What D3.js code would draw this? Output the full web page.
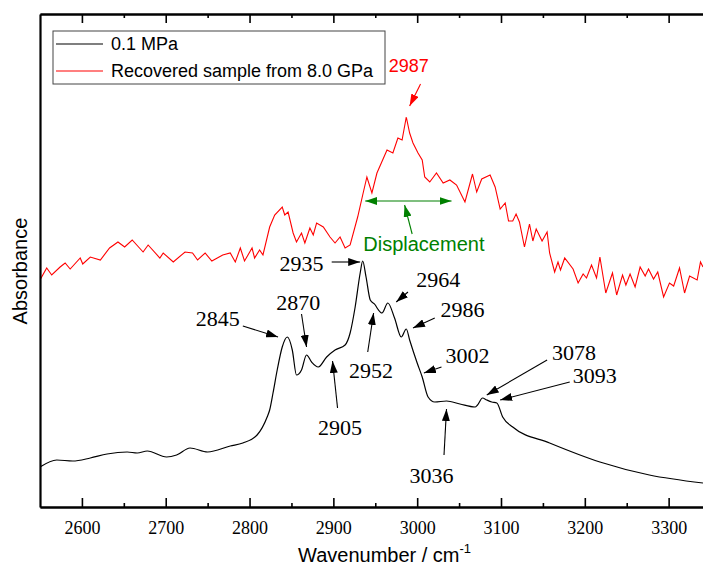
<!DOCTYPE html>
<html>
<head>
<meta charset="utf-8">
<script src="https://d3js.org/d3.v7.min.js"></script>
<style>
  body { margin: 0; background: #fff; }
</style>
</head>
<body>
<svg width="703" height="572"></svg>
<script>
// spectra (wavenumber in cm-1, absorbance in arbitrary units)
var waveAmbient = [2550,2570,2589,2610,2630,2654,2666,2678,2701,2713,2729,2750,2777,2792,2809,2821,2824,2828,2833,2839,2845,2851,2856,2862,2868,2874,2882,2892,2902,2914,2920,2926,2932,2935,2939,2944,2950,2953,2958,2965,2973,2981,2987,2991,3000,3006,3013,3021,3035,3051,3069,3072,3078,3083,3089,3095,3102,3114,3158,3218,3277,3341];
var absAmbient = [0.40,0.47,0.46,0.49,0.53,0.55,0.54,0.56,0.50,0.52,0.59,0.55,0.61,0.64,0.72,0.90,0.97,1.14,1.37,1.60,1.70,1.57,1.32,1.37,1.52,1.45,1.40,1.50,1.57,1.62,1.74,2.00,2.34,2.46,2.30,2.07,2.02,1.98,1.94,2.04,1.89,1.70,1.78,1.67,1.44,1.30,1.10,1.05,1.06,1.03,1.00,1.02,1.09,1.07,1.05,1.04,0.90,0.80,0.64,0.45,0.32,0.24];

var waveRecovered = [2550,2558,2564,2574,2580,2586,2598,2601,2610,2622,2633,2643,2651,2660,2673,2679,2693,2697,2709,2723,2732,2738,2747,2755,2768,2777,2783,2789,2794,2803,2806,2812,2816,2824,2830,2839,2842,2846,2852,2856,2862,2866,2872,2876,2880,2888,2896,2902,2908,2914,2920,2929,2935,2940,2946,2952,2964,2971,2977,2982,2987,2991,2995,3001,3006,3009,3015,3023,3031,3039,3047,3057,3066,3071,3077,3087,3093,3099,3105,3109,3114,3118,3122,3128,3134,3138,3142,3149,3155,3158,3164,3168,3171,3176,3186,3192,3198,3202,3208,3214,3218,3225,3233,3238,3245,3249,3254,3260,3266,3272,3276,3282,3287,3294,3301,3306,3313,3319,3325,3334,3338,3341];
var absRecovered = [2.27,2.39,2.32,2.40,2.44,2.38,2.49,2.43,2.50,2.47,2.59,2.65,2.60,2.67,2.55,2.62,2.49,2.54,2.45,2.55,2.54,2.47,2.54,2.46,2.52,2.54,2.45,2.59,2.46,2.59,2.49,2.57,2.52,2.80,2.92,3.00,2.92,2.95,2.74,2.65,2.74,2.64,2.79,2.72,2.84,2.80,2.70,2.64,2.70,2.59,2.62,2.90,3.12,3.30,3.14,3.34,3.57,3.54,3.69,3.67,3.90,3.74,3.64,3.54,3.47,3.30,3.25,3.34,3.24,3.27,3.22,3.05,3.33,3.15,3.28,3.32,3.20,2.98,3.04,2.86,2.86,2.93,2.85,2.60,2.83,2.66,2.78,2.66,2.75,2.54,2.35,2.45,2.37,2.49,2.38,2.24,2.33,2.29,2.42,2.29,2.50,2.14,2.34,2.12,2.32,2.22,2.33,2.20,2.40,2.31,2.38,2.28,2.35,2.10,2.24,2.21,2.39,2.14,2.31,2.27,2.45,2.40];

var majorTicks = [2600,2700,2800,2900,3000,3100,3200,3300];
var minorTicks = [2650,2750,2850,2950,3050,3150,3250];

var seriesNames = ["0.1 MPa", "Recovered sample from 8.0 GPa"];

// peak labels: text centre, arrow start, arrow tip
var peakLabels = [
  {t:"2845", at:[2762,1.89], from:[2792,1.81], to:[2834,1.70]},
  {t:"2870", at:[2858,2.05], from:[2862,1.93], to:[2868,1.60]},
  {t:"2905", at:[2908,0.80], from:[2905,0.99], to:[2899,1.46]},
  {t:"2935", at:[2862,2.44], from:[2898,2.45], to:[2932,2.45]},
  {t:"2952", at:[2945,1.37], from:[2941,1.55], to:[2948,1.94]},
  {t:"2964", at:[3025,2.28], from:[2989,2.15], to:[2975,2.05]},
  {t:"2986", at:[3054,1.98], from:[3021,1.89], to:[2995,1.79]},
  {t:"3002", at:[3060,1.52], from:[3029,1.40], to:[3008,1.34]},
  {t:"3036", at:[3017,0.32], from:[3032,0.52], to:[3035,0.98]},
  {t:"3078", at:[3187,1.55], from:[3155,1.47], to:[3083,1.12]},
  {t:"3093", at:[3212,1.32], from:[3182,1.25], to:[3099,1.07]}
];
var redLabel = {t:"2987", at:[2990,4.41], from:[3004,4.23], to:[2991,4.01]};
var shiftSpan = [2938, 3041, 3.06];
var shiftLabel = {t:"Displacement", at:[3008,2.63], from:[2994,2.73], to:[2985,3.02]};

var SERIF = "'Liberation Serif', 'DejaVu Serif', serif",
    SANS = "'Liberation Sans', Arial, sans-serif";

var svg = d3.select("svg"),
    margin = {top: 14, right: 0, bottom: 65, left: 40},
    width = +svg.attr("width") - margin.left - margin.right,
    height = +svg.attr("height") - margin.top - margin.bottom;

var x = d3.scaleLinear().domain([2550, 3341]).range([0, width]),
    y = d3.scaleLinear().domain([0, 4.93]).range([height, 0]);

var defs = svg.append("defs");
defs.append("clipPath").attr("id", "plot")
  .append("rect").attr("width", width).attr("height", height);

function marker(id, color) {
  defs.append("marker")
    .attr("id", id)
    .attr("viewBox", "0 0 12 8")
    .attr("refX", 12).attr("refY", 4)
    .attr("markerUnits", "userSpaceOnUse")
    .attr("markerWidth", 12).attr("markerHeight", 8)
    .attr("orient", "auto-start-reverse")
    .append("path").attr("d", "M0,0L12,4L0,8Z").style("fill", color);
}
marker("ab", "#000");
marker("ar", "#ff0000");
marker("ag", "#008000");

var g = svg.append("g")
  .attr("transform", "translate(" + margin.left + "," + margin.top + ")");

var ambient = waveAmbient.map(function(w, i) { return [w, absAmbient[i]]; });
var recovered = waveRecovered.map(function(w, i) { return [w, absRecovered[i]]; });

var line = d3.line()
  .x(function(d) { return x(d[0]); })
  .y(function(d) { return y(d[1]); });

var lines = g.append("g").attr("clip-path", "url(#plot)");
lines.append("path")
  .datum(recovered)
  .attr("d", line.curve(d3.curveLinear))
  .style("fill", "none").style("stroke", "#ff0000").style("stroke-width", 1.1);
lines.append("path")
  .datum(ambient)
  .attr("d", line.curve(d3.curveMonotoneX))
  .style("fill", "none").style("stroke", "#000").style("stroke-width", 1.2);

// axes
function styleAxis(sel) {
  sel.select(".domain").style("stroke-width", 2.2);
  sel.selectAll(".tick line").style("stroke-width", 1.6);
}

g.append("g")
  .attr("transform", "translate(0," + height + ")")
  .call(d3.axisBottom(x).tickValues(majorTicks).tickSizeInner(-9).tickSizeOuter(0).tickPadding(14).tickFormat(d3.format("d")))
  .call(styleAxis)
  .attr("font-family", SERIF).attr("font-size", 18)
  .selectAll("text").style("font-family", SERIF).style("font-size", "18px");
g.append("g")
  .attr("transform", "translate(0," + height + ")")
  .call(d3.axisBottom(x).tickValues(minorTicks).tickSizeInner(-4).tickSizeOuter(0).tickFormat(""))
  .call(styleAxis);
g.append("g")
  .call(d3.axisTop(x).tickValues(majorTicks).tickSizeInner(-9).tickSizeOuter(0).tickFormat(""))
  .call(styleAxis);
g.append("g")
  .call(d3.axisTop(x).tickValues(minorTicks).tickSizeInner(-4).tickSizeOuter(0).tickFormat(""))
  .call(styleAxis);
g.append("g")
  .call(d3.axisLeft(y).tickValues([]).tickSizeOuter(0))
  .call(styleAxis);

svg.append("text")
  .attr("transform", "translate(27,271) rotate(-90)")
  .attr("text-anchor", "middle")
  .style("font-family", SANS).style("font-size", "20px")
  .text("Absorbance");

var xt = svg.append("text")
  .attr("x", 298).attr("y", 562)
  .style("font-family", SANS).style("font-size", "20px");
xt.append("tspan").text("Wavenumber / cm");
xt.append("tspan").attr("dy", -9).style("font-size", "13px").text("-1");

// peak annotations
function arrow(sel, a, color, mk) {
  sel.append("line")
    .attr("x1", x(a.from[0])).attr("y1", y(a.from[1]))
    .attr("x2", x(a.to[0])).attr("y2", y(a.to[1]))
    .style("stroke", color).style("stroke-width", 1.1)
    .attr("marker-end", "url(#" + mk + ")");
}

var ann = g.append("g");
peakLabels.forEach(function(a) {
  arrow(ann, a, "#000", "ab");
  ann.append("text")
    .attr("x", x(a.at[0])).attr("y", y(a.at[1]))
    .attr("dy", "0.35em")
    .attr("text-anchor", "middle")
    .style("font-family", SERIF).style("font-size", "22px")
    .text(a.t);
});

arrow(ann, redLabel, "#ff0000", "ar");
ann.append("text")
  .attr("x", x(redLabel.at[0])).attr("y", y(redLabel.at[1]))
  .attr("dy", "0.35em").attr("text-anchor", "middle")
  .style("font-family", SANS).style("font-size", "18px").style("fill", "#ff0000")
  .text(redLabel.t);

ann.append("line")
  .attr("x1", x(shiftSpan[0])).attr("x2", x(shiftSpan[1]))
  .attr("y1", y(shiftSpan[2])).attr("y2", y(shiftSpan[2]))
  .style("stroke", "#008000").style("stroke-width", 1.1)
  .attr("marker-start", "url(#ag)").attr("marker-end", "url(#ag)");
arrow(ann, shiftLabel, "#008000", "ag");
ann.append("text")
  .attr("x", x(shiftLabel.at[0])).attr("y", y(shiftLabel.at[1]))
  .attr("dy", "0.35em").attr("text-anchor", "middle")
  .style("font-family", SANS).style("font-size", "20px").style("fill", "#008000")
  .text(shiftLabel.t);

// legend
var legend = svg.append("g").attr("transform", "translate(53,31)");
legend.append("rect")
  .attr("width", 332).attr("height", 53)
  .style("fill", "#fff").style("stroke", "#444").style("stroke-width", 1);
var item = legend.selectAll(".item")
  .data(seriesNames)
  .enter().append("g")
  .attr("transform", function(d, i) { return "translate(0," + (13 + i * 27) + ")"; });
item.append("line")
  .attr("x1", 3).attr("x2", 50)
  .style("stroke", function(d, i) { return i ? "#ff0000" : "#000"; })
  .style("stroke-width", 1.1);
item.append("text")
  .attr("x", 58).attr("dy", "0.35em")
  .style("font-family", SANS).style("font-size", "18px")
  .text(function(d) { return d; });
</script>
</body>
</html>
